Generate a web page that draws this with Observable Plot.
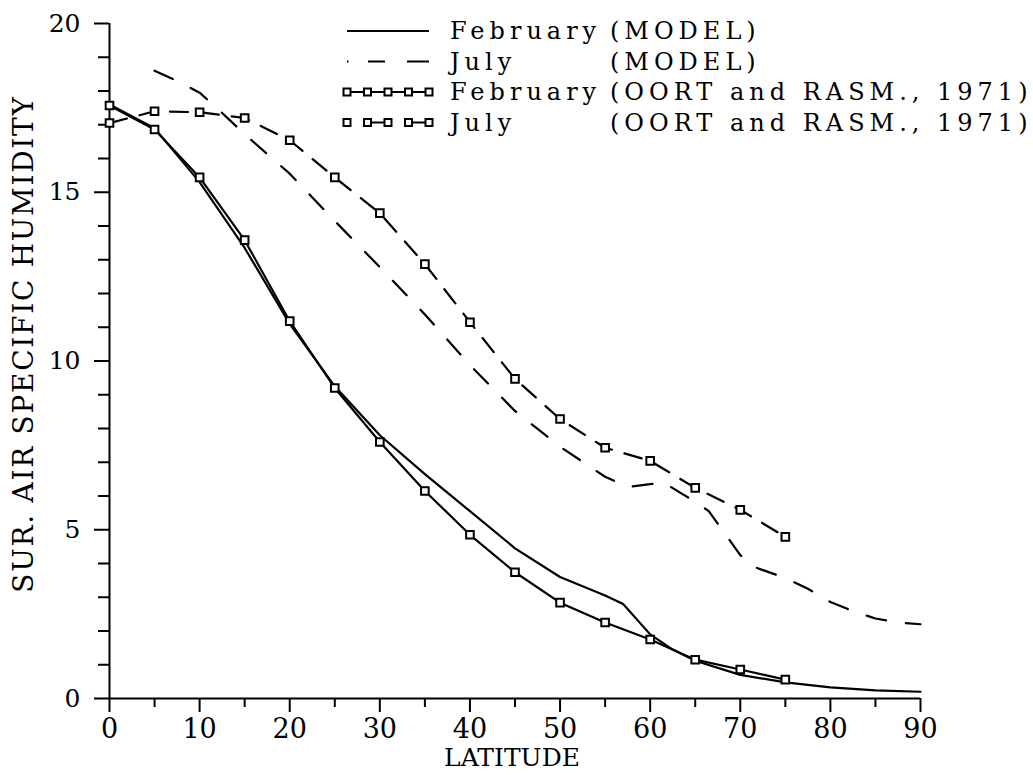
<!DOCTYPE html>
<html>
<head>
<meta charset="utf-8">
<script src="https://cdn.jsdelivr.net/npm/d3@7"></script>
<script src="https://cdn.jsdelivr.net/npm/@observablehq/plot@0.6"></script>
<style>
  html, body { margin: 0; padding: 0; background: #fff; }
  #wrap { position: relative; width: 1033px; height: 775px; }
  #overlay { position: absolute; left: 0; top: 0; pointer-events: none; }
  #wrap svg.mainplot text { font-size: 27px !important; }
  #wrap svg.mainplot g[text-anchor="end"] text { font-size: 25px !important; }
</style>
</head>
<body>
<div id="wrap"></div>
<script>
// ---- data ----
const febModelLat = [0, 5, 10, 15, 20, 25, 30, 35, 40, 45, 50, 55, 57, 60, 62.5, 65, 70, 75, 80, 85, 90];
const febModelVal = [17.6, 16.9, 15.3, 13.35, 11.1, 9.25, 7.8, 6.65, 5.55, 4.45, 3.6, 3.05, 2.8, 1.9, 1.45, 1.12, 0.7, 0.48, 0.33, 0.24, 0.2];

const julModelLat = [5, 7.5, 10, 12.5, 15, 20, 25, 30, 35, 40, 45, 50, 55, 57.5, 60, 61.5, 63.5, 65, 66.5, 68, 70, 71.5, 75, 77.5, 80, 82.5, 85, 87.5, 90];
const julModelVal = [18.6, 18.3, 17.95, 17.35, 16.72, 15.55, 14.15, 12.78, 11.38, 9.88, 8.52, 7.46, 6.57, 6.27, 6.35, 6.4, 6.07, 5.83, 5.55, 5.0, 4.25, 3.9, 3.57, 3.25, 2.86, 2.59, 2.37, 2.25, 2.2];

const obsLat = [0, 5, 10, 15, 20, 25, 30, 35, 40, 45, 50, 55, 60, 65, 70, 75];
const febObsVal = [17.57, 16.86, 15.44, 13.58, 11.18, 9.2, 7.6, 6.15, 4.85, 3.74, 2.84, 2.25, 1.75, 1.15, 0.86, 0.56];
const julObsVal = [17.05, 17.4, 17.37, 17.2, 16.54, 15.44, 14.38, 12.87, 11.15, 9.47, 8.28, 7.43, 7.04, 6.24, 5.59, 4.79];

const xMajorTicks = [0, 10, 20, 30, 40, 50, 60, 70, 80, 90];
const xMinorTicks = [5, 15, 25, 35, 45, 55, 65, 75, 85];
const yMajorTicks = [0, 5, 10, 15, 20];
const yMinorTicks = [1,2,3,4,6,7,8,9,11,12,13,14,16,17,18,19];

const xTitle = "LATITUDE";
const yTitle = "SUR. AIR SPECIFIC HUMIDITY";

const legendMonths = ["February", "July", "February", "July"];
const legendSources = ["(MODEL)", "(MODEL)", "(OORT and RASM., 1971)", "(OORT and RASM., 1971)"];

// ---- tables ----
const febModel = febModelLat.map((x, i) => ({x, y: febModelVal[i]}));
const julModel = julModelLat.map((x, i) => ({x, y: julModelVal[i]}));
const febObs = obsLat.map((x, i) => ({x, y: febObsVal[i]}));
const julObs = obsLat.map((x, i) => ({x, y: julObsVal[i]}));

const FONT = "DejaVu Serif";

const chart = Plot.plot({
  width: 1033,
  height: 775,
  marginLeft: 109,
  marginRight: 113,
  marginTop: 23,
  marginBottom: 77,
  className: "mainplot",
  style: { fontFamily: FONT, background: "#fff", color: "#000" },
  x: { domain: [0, 90] },
  y: { domain: [0, 20] },
  marks: [
    Plot.axisY({ticks: yMinorTicks, tickSize: 11, tickFormat: () => "", strokeWidth: 2, label: null}),
    Plot.axisY({ticks: yMajorTicks, tickSize: 15, tickPadding: 14, tickFormat: d => String(d), strokeWidth: 2, label: null}),
    Plot.axisX({ticks: xMinorTicks, tickSize: 9, tickFormat: () => "", strokeWidth: 2, label: null}),
    Plot.axisX({ticks: xMajorTicks, tickSize: 14, tickPadding: 6, tickFormat: d => String(d), strokeWidth: 2, label: null}),
    Plot.ruleX([0], {stroke: "#000", strokeWidth: 2}),
    Plot.ruleY([0], {stroke: "#000", strokeWidth: 2}),
    Plot.line(febModel, {x: "x", y: "y", stroke: "#000", strokeWidth: 2.2}),
    Plot.line(julModel, {x: "x", y: "y", stroke: "#000", strokeWidth: 2.2, strokeDasharray: "20,20"}),
    Plot.line(febObs, {x: "x", y: "y", stroke: "#000", strokeWidth: 2.2}),
    Plot.line(julObs, {x: "x", y: "y", stroke: "#000", strokeWidth: 2.2, strokeDasharray: "18,13"}),
    Plot.dot(febObs, {x: "x", y: "y", symbol: "square", r: 4.3, stroke: "#000", fill: "#fff", strokeWidth: 2}),
    Plot.dot(julObs, {x: "x", y: "y", symbol: "square", r: 4.3, stroke: "#000", fill: "#fff", strokeWidth: 2})
  ]
});
chart.classList.add("mainplot");
document.getElementById("wrap").appendChild(chart);

// ---- overlay: axis titles + legend ----
const ov = d3.select("#wrap").append("svg")
  .attr("id", "overlay").attr("width", 1033).attr("height", 775)
  .style("font-family", FONT);

ov.append("text").attr("x", 512).attr("y", 766).attr("text-anchor", "middle")
  .attr("font-size", 25).attr("fill", "#000").text(xTitle);
ov.append("text").attr("transform", "translate(33,344) rotate(-90)").attr("text-anchor", "middle")
  .attr("font-size", 28).attr("letter-spacing", 1.7).attr("fill", "#000").text(yTitle);

const rowY = [31, 61.5, 92, 122.5];
const x0 = 347, x1 = 429;
rowY.forEach((ry, i) => {
  const g = ov.append("g");
  if (i === 0) {
    g.append("line").attr("x1", x0).attr("x2", x1).attr("y1", ry).attr("y2", ry)
      .attr("stroke", "#000").attr("stroke-width", 2);
  } else if (i === 1) {
    g.append("line").attr("x1", x0).attr("x2", x1).attr("y1", ry).attr("y2", ry)
      .attr("stroke", "#000").attr("stroke-width", 2).attr("stroke-dasharray", "1.5,19.5,17,22,22");
  } else {
    const xs = d3.range(5).map(k => x0 + k * (x1 - x0) / 4);
    const segs = i === 2 ? [[0,1],[1,2],[2,3],[3,4]] : [[1,2],[3,4]];
    segs.forEach(([a, b]) => g.append("line").attr("x1", xs[a]).attr("x2", xs[b]).attr("y1", ry).attr("y2", ry)
      .attr("stroke", "#000").attr("stroke-width", 2));
    xs.forEach(cx => g.append("rect").attr("x", cx - 3.5).attr("y", ry - 3.5).attr("width", 7).attr("height", 7)
      .attr("fill", "#fff").attr("stroke", "#000").attr("stroke-width", 2));
  }
  g.append("text").attr("x", 450).attr("y", ry + 8).attr("font-size", 24).attr("letter-spacing", 5)
    .attr("fill", "#000").text(legendMonths[i]);
  g.append("text").attr("x", 610).attr("y", ry + 8).attr("font-size", 24).attr("letter-spacing", 5)
    .attr("fill", "#000").text(legendSources[i]);
});
</script>
</body>
</html>
